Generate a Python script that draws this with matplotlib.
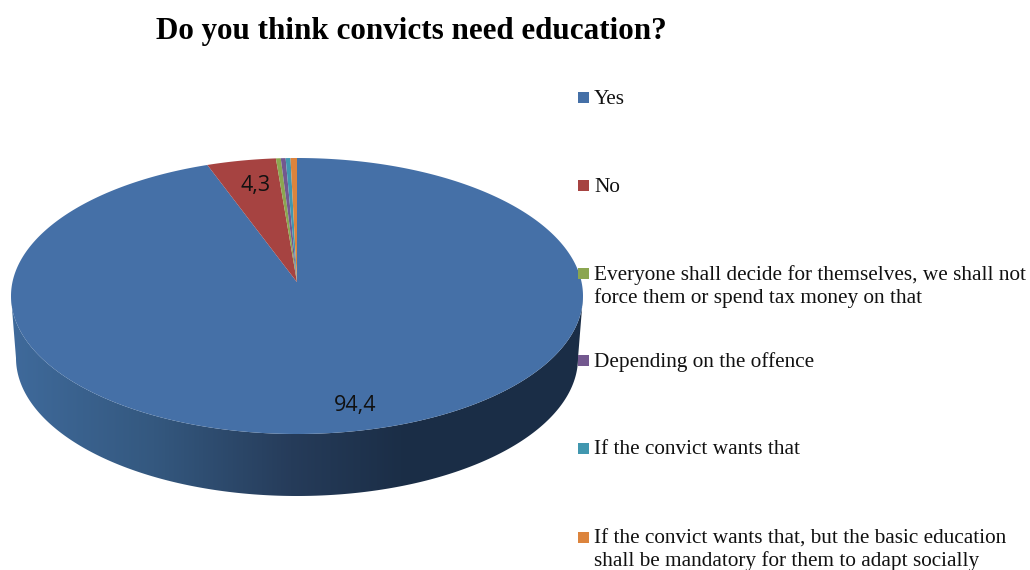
import numpy as np
import matplotlib
matplotlib.use('Agg')
import matplotlib.pyplot as plt
from matplotlib.colors import LinearSegmentedColormap
from matplotlib.patches import Polygon, Rectangle

title = 'Do you think convicts need education?'
labels = ['Yes', 'No',
          'Everyone shall decide for themselves, we shall not\nforce them or spend tax money on that',
          'Depending on the offence',
          'If the convict wants that',
          'If the convict wants that, but the basic education\nshall be mandatory for them to adapt socially']
values = [94.4, 4.3, 0.3, 0.3, 0.3, 0.4]
value_labels = ['94,4', '4,3', None, None, None, None]
colors = ['#4570A7', '#A64341', '#8BA650', '#73588F', '#4197AF', '#DC843D']

# top face ellipse, bottom face ellipse (pixels)
cx, cy, rx, ry = 297, 296, 286, 138
bx, by, brx, bry = 297, 358, 281, 138
tilt = 0.10  # how far the apex sits above the ellipse centre


def project(theta, r=1.0):
    # clockwise angle from 12 o'clock -> pixel position, with a bit of perspective
    u = r * np.sin(theta)
    v = r * np.cos(theta)
    d = 1 + tilt * v
    px = u * np.sqrt(1 - tilt ** 2) / d
    py = (v + tilt) / d
    return cx + rx * px, cy - ry * py


fig = plt.figure(figsize=(10.3, 5.7), dpi=100)
ax = fig.add_axes([0, 0, 1, 1])

# side wall with the dark gradient, only the front half shows
t = np.linspace(0, np.pi, 300)
wall = np.vstack([
    np.column_stack([cx - rx * np.cos(t), cy + ry * np.sin(t)]),
    np.column_stack([bx + brx * np.cos(t), by + bry * np.sin(t)]),
])
wall_cmap = LinearSegmentedColormap.from_list(
    'wall', [(0, '#3F6A9B'), (0.25, '#34587F'), (0.49, '#263C5A'), (0.68, '#1B2E47'), (1, '#1A2D46')])
im = ax.imshow(np.linspace(0, 1, 256).reshape(1, -1), cmap=wall_cmap, aspect='auto',
               extent=[cx - rx, cx + rx, by + bry, cy], zorder=1)
wall_patch = Polygon(wall, closed=True, facecolor='none', edgecolor='none', transform=ax.transData)
ax.add_patch(wall_patch)
im.set_clip_path(wall_patch)

# top face, clockwise from 12 o'clock
apex = project(0, 0)
edges = np.cumsum([0] + values) / sum(values) * 2 * np.pi
for i in range(len(values)):
    a = np.linspace(edges[i], edges[i + 1], 400)
    xs, ys = project(a)
    ax.fill(np.r_[apex[0], xs], np.r_[apex[1], ys], color=colors[i], lw=0, zorder=2)

# value labels
sans = ['Open Sans', 'DejaVu Sans']
ax.text(355, 405.5, value_labels[0], family=sans, fontsize=15.5, ha='center', va='center', color='#111111', zorder=3)
ax.text(255.5, 185.5, value_labels[1], family=sans, fontsize=15.5, ha='center', va='center', color='#111111', zorder=3)

ax.text(411, 32, title, family='Liberation Serif', fontweight='bold', fontsize=22.4,
        ha='center', va='center', color='black')

# legend, spaced by hand because of the two-line entries
legend_y = [97, 185, 273, 360, 448, 537]
for lab, col, y in zip(labels, colors, legend_y):
    ax.add_patch(Rectangle((578, y - 5.5), 11, 11, facecolor=col, edgecolor='none', zorder=3))
    ax.text(594, y - 7.5, lab, family='Liberation Serif', fontsize=15.35, ha='left', va='top',
            color='#111111', linespacing=1.2, zorder=3)

ax.set_xlim(0, 1030)
ax.set_ylim(570, 0)
ax.axis('off')

fig.savefig('out.png', dpi=100)
